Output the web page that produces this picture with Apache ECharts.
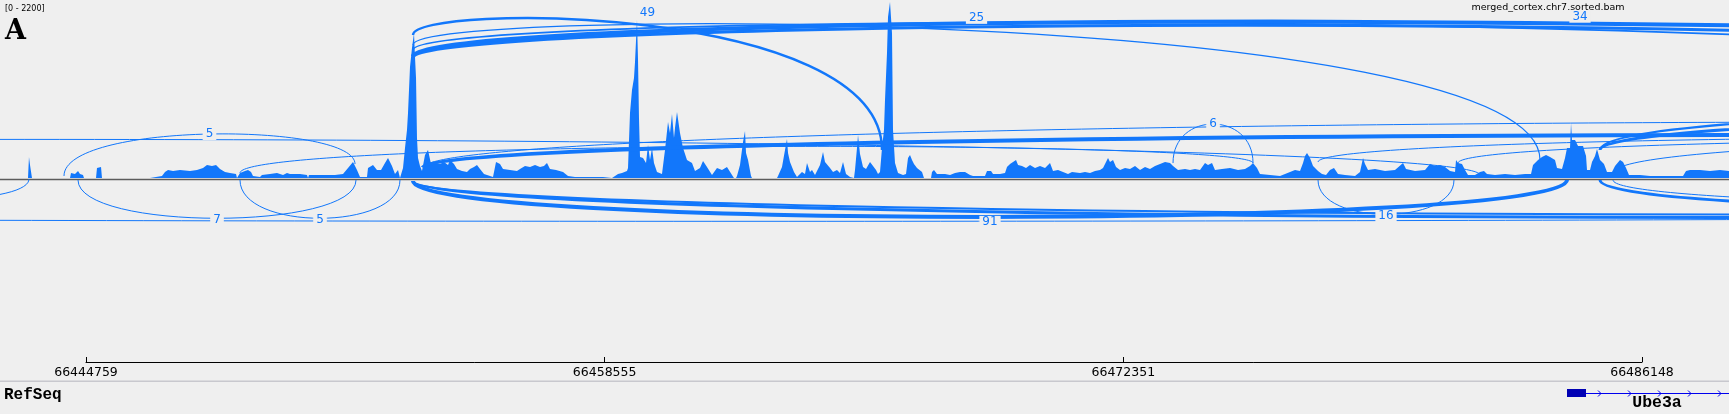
<!DOCTYPE html>
<html><head><meta charset="utf-8">
<script src="https://cdn.jsdelivr.net/npm/echarts@6/dist/echarts.min.js"></script>
<style>html,body{margin:0;padding:0;background:#efefef}#c{width:1729px;height:414px}</style>
</head><body><div id="c"></div>
<script>
// ---------------- data ----------------
const trackName = 'merged_cortex.chr7.sorted.bam';
const panelLetter = 'A';
const dataRange = [0, 2200];
const viewStart = 66442471;
const viewEnd = 66488462;
const rulerTicks = [66444759, 66458555, 66472351, 66486148];

// coverage: bp offset from viewStart, read depth
const covOffset = [
 0,745,771,798,825,851,1463,1490,1516,1862,1889,1995,2075,2128,2208,2234,2554,2580,2633,2687,2713,
 3990,4017,4309,4389,4469,4602,4788,5054,5240,5400,5506,5639,5746,5852,5985,6118,6278,6304,
 6357,6384,6517,6597,6677,6730,6916,6969,7182,7368,7528,7634,7714,7980,8166,8193,8219,8512,8911,9124,9257,9390,9496,9576,9762,9789,9922,10028,10135,10241,10321,10427,10507,10587,10640,10693,
 10720,10773,10826,10853,10906,10959,11012,11039,11066,11092,11119,11172,11225,11305,11385,11465,11571,11704,11810,11917,11970,12076,12156,12289,12422,12502,12608,12688,12768,12874,13034,13114,13140,
 13167,13194,13300,13380,13566,13752,13832,13965,14098,14231,14364,14470,14550,14630,14790,14976,15109,15295,16040,16066,
 16279,16306,16439,16545,16678,16705,16758,16811,16864,16891,16944,16971,16997,17024,17104,17184,17237,17290,17343,17396,17476,17609,17662,17689,17769,17822,17875,17928,17955,18008,18088,18168,18274,18407,18487,18620,18700,18806,18939,19072,19205,19338,19471,19524,
 19578,19604,19684,19764,19817,19844,19897,19977,20003,
 20668,20695,20801,20881,20934,20961,21014,21120,21200,21227,21333,21413,21466,21546,21599,21679,21812,21892,21945,21998,22078,22158,22264,22344,22424,22504,22610,22637,
 22716,22743,22796,22823,22876,22956,23036,23142,23222,23302,23355,23408,23461,23514,23541,23594,23621,23674,23727,23754,23807,23887,24020,24100,24153,24206,24259,24312,24392,24525,24578,
 24765,24791,24844,24924,25137,25270,25403,25536,25669,25802,25882,26201,26254,26361,26414,26600,26733,26786,26866,26946,27026,27079,27185,27292,27398,27531,27664,27797,27930,28010,28143,28276,28409,28515,28728,28861,28994,29127,29260,
 29340,29420,29473,29526,29606,29686,29792,29925,30058,30191,30324,30457,30590,30723,30856,30989,31122,31202,31335,31521,31654,31787,31920,32053,32133,32239,32319,32505,32718,32931,33117,33250,33330,33436,33516,33782,34048,34314,34447,34580,
 34660,34713,34766,34846,34926,35059,35165,35272,35378,35484,35591,35777,36043,36176,36256,36309,36389,36575,36841,37107,37320,37400,37639,37905,38038,38171,38304,38437,38570,
 38703,38730,38783,38889,38969,39049,39235,39368,39474,39554,39767,40033,40299,40565,40725,40778,40911,41017,41124,41230,41363,41416,41549,41629,41682,41762,41789,41815,41895,41975,42028,42108,42188,42214,42294,42347,42427,42480,42560,42666,42746,42879,42959,43092,43172,43252,43331,43624,43890,44422,44768,44848,44954,45220,45486,45752,45991
];
const covDepth = [
 0,0,260,161,161,0,0,12,0,0,62,49,87,49,37,0,0,124,148,136,0,
 0,12,25,74,99,87,99,87,99,124,161,148,161,111,74,62,49,0,
 0,62,87,99,74,25,12,37,49,62,37,62,49,49,37,0,37,37,37,49,124,198,99,12,12,124,161,99,99,185,247,148,49,99,0,0,
 124,371,593,803,1372,1607,1792,1496,1236,494,247,148,87,284,346,173,185,173,198,161,222,173,111,87,74,111,136,161,111,49,25,12,0,
 0,198,173,111,99,87,111,148,136,161,136,148,185,111,99,74,25,12,12,0,
 0,12,49,62,87,124,803,1088,1236,1434,1953,1458,742,260,247,185,408,222,371,185,74,49,247,346,692,556,791,494,618,816,556,371,222,185,87,124,210,136,37,124,99,136,37,0,
 0,25,161,445,581,309,222,25,0,
 0,25,136,346,482,309,198,74,12,25,74,49,185,74,99,37,161,321,198,222,124,74,99,62,198,49,12,0,
 0,99,371,531,297,136,111,198,148,99,49,74,371,593,964,1545,1990,2175,1792,593,185,62,37,49,247,284,222,173,124,74,0,
 0,74,99,49,49,37,62,74,74,37,25,25,87,87,49,49,62,136,173,198,222,161,148,124,161,124,148,124,185,87,99,74,49,74,62,74,62,87,99,
 124,198,247,198,222,136,99,124,111,148,99,136,111,148,173,198,185,148,99,111,99,111,99,185,161,185,99,111,124,99,111,148,185,124,49,37,25,74,99,87,
 185,272,309,247,148,87,49,37,99,124,49,37,25,74,247,173,99,111,87,99,185,111,87,99,173,148,161,136,87,
 74,222,185,173,99,37,37,74,87,49,37,49,37,49,49,161,222,260,284,260,222,124,111,247,371,371,680,470,470,396,420,396,272,99,99,198,272,358,222,173,74,74,148,222,198,124,37,37,25,25,25,87,99,99,87,99,87
];

// splice junctions (arcs): start, end, coverage at ends, arc control height (signed: + above, - below), depth (null = unlabeled)
const juncStart    = [66444173,66402571,66448855,66453723,66453723,66453457,66453457,66453457,66453457,66453457,66473673,66477530,66481254,66485031,66485031,66485430, 66438481,66444546,66448855,66375971,66453457,66453457,66453457,66477530,66485031,66485377];
const juncEnd      = [66451914,66481839,66475801,66538231,66535571,66465932,66483435,66515541,66530251,66527591,66475801,66522271,66524931,66532911,66522271,66530251, 66443242,66451941,66453111,66548871,66484153,66524931,66527591,66481147,66511631,66516951];
const juncStartCov = [25,0,62,124,136,1767,1644,1582,1508,1483,185,198,185,346,346,74, -37,-25,-25,-25,-37,-37,-37,-25,-25,-25];
const juncEndCov   = [173,37,185,0,0,346,222,0,0,0,185,0,0,0,0,0, -12,-25,-25,-25,-25,0,0,-25,0,0];
const juncCtrl     = [692,630,478,902,686,2160,2114,2180,2225,2163,828,637,618,964,1051,705, -346,-655,-655,-705,-630,-643,-593,-590,-519,-470];
const juncDepth    = [5,null,null,15,80,49,25,34,80,60,6,10,10,60,40,10, 10,7,5,null,91,60,40,16,60,10];

const geneName = 'Ube3a';
const geneStart = 66484153, geneEnd = 66560000;
const exonStart = [66484153], exonEnd = [66484659];
const trackLabel = 'RefSeq';

// ---------------- checks ----------------
if (covOffset.length !== covDepth.length) throw new Error('coverage length mismatch ' + covOffset.length + ' ' + covDepth.length);
[juncEnd, juncStartCov, juncEndCov, juncCtrl, juncDepth].forEach(a => { if (a.length !== juncStart.length) throw new Error('junction length mismatch'); });

// ---------------- chart ----------------
const BLUE = '#1277fb';
const BG = '#efefef';
const belowRange = 766;
const chart = echarts.init(document.getElementById('c'), null, {renderer: 'canvas'});

const covData = covOffset.map((o, i) => [viewStart + o, covDepth[i]]);
const juncData = juncStart.map((s, i) => [s, juncEnd[i], juncStartCov[i], juncEndCov[i], juncCtrl[i]]);

function arcItem(params, api) {
  const i = params.dataIndex;
  const s = juncStart[i], e = juncEnd[i];
  const p0 = api.coord([s, juncStartCov[i]]);
  const p3 = api.coord([e, juncEndCov[i]]);
  const cy = api.coord([s, juncCtrl[i]])[1];
  const d = juncDepth[i];
  const w = d == null ? 1 : Math.max(1, Math.min(4, d / 20));
  const children = [{
    type: 'bezierCurve',
    shape: {x1: p0[0], y1: p0[1], x2: p3[0], y2: p3[1], cpx1: p0[0], cpy1: cy, cpx2: p3[0], cpy2: cy},
    style: {stroke: BLUE, lineWidth: w, fill: 'none'}
  }];
  const mid = (s + e) / 2;
  if (d != null && mid > viewStart && mid < viewEnd) {
    const mx = (p0[0] + p3[0]) / 2;
    const my = (p0[1] + p3[1]) / 8 + 0.75 * cy;
    const above = juncCtrl[i] > 0;
    const off = above ? (d >= 20 ? -13 : 0) : 1 + w;
    children.push({
      type: 'text', z2: 10,
      style: {text: String(d), x: mx, y: my + off, align: 'center', verticalAlign: 'middle',
        fill: BLUE, fontSize: 12, fontFamily: 'DejaVu Sans', backgroundColor: BG, padding: [0, 3]}
    });
  }
  return {type: 'group', children};
}

function geneItem(params, api) {
  const yMid = api.coord([viewStart, 0.5])[1];
  const gs = api.coord([geneStart, 0])[0];
  const ge = api.coord([geneEnd, 0])[0];
  const vs = api.coord([viewStart, 0])[0];
  const ve = api.coord([viewEnd, 0])[0];
  const children = [{type: 'line', shape: {x1: gs, y1: yMid + 0.5, x2: ge, y2: yMid + 0.5}, style: {stroke: '#0000ee', lineWidth: 1}}];
  for (let x = gs + 33; x < Math.min(ge, ve + 10); x += 30) {
    children.push({type: 'polyline', shape: {points: [[x - 2, yMid - 2.5], [x + 1, yMid + 0.5], [x - 2, yMid + 3.5]]}, style: {stroke: '#0000ee', lineWidth: 1, fill: 'none'}});
  }
  exonStart.forEach((es, k) => {
    const a = api.coord([es, 0])[0], b = api.coord([exonEnd[k], 0])[0];
    children.push({type: 'rect', shape: {x: a, y: yMid - 4, width: b - a, height: 8}, style: {fill: '#0000b4'}});
  });
  const cx = (Math.max(gs, vs) + Math.min(ge, ve)) / 2 + 9;
  children.push({type: 'text', style: {text: geneName, x: cx, y: yMid + 10, align: 'center', verticalAlign: 'middle',
    fill: '#000', fontSize: 16.5, fontWeight: 'bold', fontFamily: 'Liberation Mono'}});
  return {type: 'group', children};
}

const option = {
  backgroundColor: BG,
  animation: false,
  grid: [
    {left: 0, right: 0, top: 0, height: 240},
    {left: 86, right: 87, top: 330, height: 32},
    {left: 0, right: 0, top: 385, height: 16}
  ],
  xAxis: [
    {gridIndex: 0, type: 'value', min: viewStart, max: viewEnd, show: false},
    {gridIndex: 1, type: 'value', min: rulerTicks[0], max: rulerTicks[rulerTicks.length - 1], position: 'bottom',
      axisLine: {show: true, lineStyle: {color: '#000', width: 1}},
      axisTick: {show: true, inside: true, length: 5, lineStyle: {color: '#000'}, customValues: rulerTicks},
      axisLabel: {customValues: rulerTicks, color: '#000', fontSize: 12.5, fontFamily: 'DejaVu Sans', margin: 4, formatter: v => String(v)},
      splitLine: {show: false}},
    {gridIndex: 2, type: 'value', min: viewStart, max: viewEnd, show: false}
  ],
  yAxis: [
    {gridIndex: 0, type: 'value', min: -belowRange, max: dataRange[1], show: false},
    {gridIndex: 1, type: 'value', min: 0, max: 1, show: false},
    {gridIndex: 2, type: 'value', min: 0, max: 1, show: false}
  ],
  graphic: [
    {type: 'rect', shape: {x: 0, y: 178.7, width: 1729, height: 1.6}, style: {fill: '#5c5c5c'}, z: 1},
    {type: 'rect', shape: {x: 0, y: 380.6, width: 1729, height: 1.5}, style: {fill: '#c8c8ce'}},
    {type: 'text', x: 5, y: 9, style: {text: '[' + dataRange[0] + ' - ' + dataRange[1] + ']', fontSize: 8, fontFamily: 'DejaVu Sans', fill: '#000', verticalAlign: 'middle'}},
    {type: 'text', x: 5, y: 32, style: {text: panelLetter, fontSize: 27, fontWeight: 'bold', fontFamily: 'DejaVu Serif', fill: '#000', verticalAlign: 'middle'}},
    {type: 'text', x: 1548, y: 8, style: {text: trackName, fontSize: 9.5, fontFamily: 'DejaVu Sans', fill: '#000', align: 'center', verticalAlign: 'middle'}},
    {type: 'text', x: 4, y: 395, style: {text: trackLabel, fontSize: 16, fontWeight: 'bold', fontFamily: 'Liberation Mono', fill: '#000', verticalAlign: 'middle'}}
  ],
  series: [
    {type: 'line', xAxisIndex: 0, yAxisIndex: 0, data: covData, showSymbol: false, symbol: 'none',
      lineStyle: {width: 0}, areaStyle: {color: BLUE, opacity: 1}, z: 2, silent: true},
    {type: 'custom', xAxisIndex: 0, yAxisIndex: 0, data: juncData, renderItem: arcItem, clip: true,
      encode: {x: [0, 1], y: [2, 3, 4]}, z: 3, silent: true},
    {type: 'custom', xAxisIndex: 2, yAxisIndex: 2, data: [[geneStart, geneEnd]], renderItem: geneItem, clip: false,
      encode: {x: [0, 1]}, z: 3, silent: true}
  ]
};
chart.setOption(option);
</script></body></html>
